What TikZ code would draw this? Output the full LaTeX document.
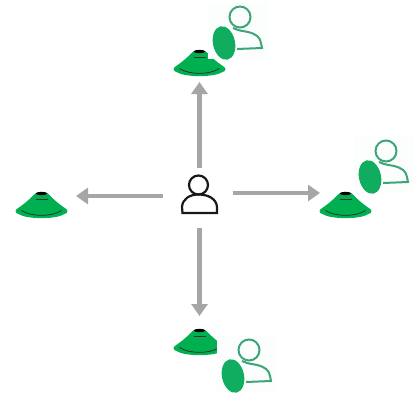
\documentclass[tikz,border=0pt]{standalone}
\usepackage{tikz}
\usetikzlibrary{arrows.meta}

\definecolor{conegreen}{HTML}{00B050}
\definecolor{ghostgreen}{HTML}{3DA578}
\definecolor{discgreen}{HTML}{10AC60}
\definecolor{paleback}{HTML}{FBFEFC}
\definecolor{arrowgray}{HTML}{A6A6A6}

\begin{document}
\begin{tikzpicture}[x=1pt,y=-1pt]
    \tikzstyle{arrow} = [line width=4.4pt,arrowgray,-{Triangle[length=12pt,width=16pt]}]
    \tikzstyle{cue} = [minimum width=51pt, minimum height=25pt, inner sep=0pt, outer sep=0pt]
    \tikzset{
      cone/.pic={
        \fill [conegreen] (-6.5,-12) .. controls (-12,-6) and (-18,-1) .. (-24,3) .. controls (-27,5) and (-26.5,7.5) .. (-23,8.5)
          .. controls (-15,14) and (15,14) .. (23,8.5) .. controls (26.5,7.5) and (27,5) .. (24,3)
          .. controls (18,-1) and (12,-6) .. (6.5,-12) -- cycle;
        \fill [black] (0,-12) ellipse [x radius=6, y radius=1.6];
        \draw [black!80, line width=.6pt] (-6,-6.5) -- (6,-6.5);
        \draw [black!85, line width=.7pt] (-20,5) .. controls (-10,11.5) and (10,11.5) .. (20,5);
      },
      % origin is the centre of the green disc
      ghost/.pic={
        \fill [paleback] (-16,-41) rectangle (44,16);
        \draw [ghostgreen, line width=2pt] (16,-26) circle [radius=10.5];
        \draw [ghostgreen, line width=2pt] (9,-15) .. controls (15,-12) and (20,-12) .. (24,-11)
          .. controls (32,-9) and (36,-6) .. (37,0) -- (38,5) -- (13,6);
        \fill [discgreen, rotate=12] (0,0) ellipse [x radius=11, y radius=17];
      },
      walker/.pic={
        \draw [black!90, line width=2.2pt] (1,-13) circle [radius=9.5];
        \draw [black!90, line width=2.2pt] (-15,15) -- (-15.5,9) .. controls (-15,1) and (-8,-3.5) .. (1,-3.5)
          .. controls (11,-3.5) and (19,1) .. (19.5,9) -- (19.5,15) -- cycle;
      }
    }
    \useasboundingbox (0,0) rectangle (418,394);

    % Person in the middle
    \node [minimum width=70pt, minimum height=60pt, inner sep=0pt, outer sep=0pt] (Person) at (197.5,198) {};
    \pic at (Person.center) {walker};

    % Top cone
    \node [cue] (CueTop) at (199.5,63.5) {};
    \pic at (CueTop.center) {cone};
    \pic at (224,43) {ghost};
    \draw [arrow, shorten >=6pt] ([xshift=2pt]Person.north) -- (CueTop.south);

    % Left cone
    \node [cue] (CueLeft) at (41.5,205.5) {};
    \pic at (CueLeft.center) {cone};
    \draw [arrow, shorten >=9pt] ([yshift=2pt]Person.west) -- ([yshift=-3pt]CueLeft.north east);

    % Right cone
    \node [cue] (CueRight) at (345.5,205.5) {};
    \pic at (CueRight.center) {cone};
    \pic at (370,177) {ghost};
    \draw [arrow] ([yshift=5pt]Person.east) -- (CueRight.north west);

    % Bottom cone
    \node [cue] (CueBottom) at (199.5,342.5) {};
    \pic at (CueBottom.center) {cone};
    \pic at (233,376) {ghost};
    \draw [arrow, shorten >=14pt] ([xshift=2pt]Person.south) -- (CueBottom.north);
\end{tikzpicture}
\end{document}
